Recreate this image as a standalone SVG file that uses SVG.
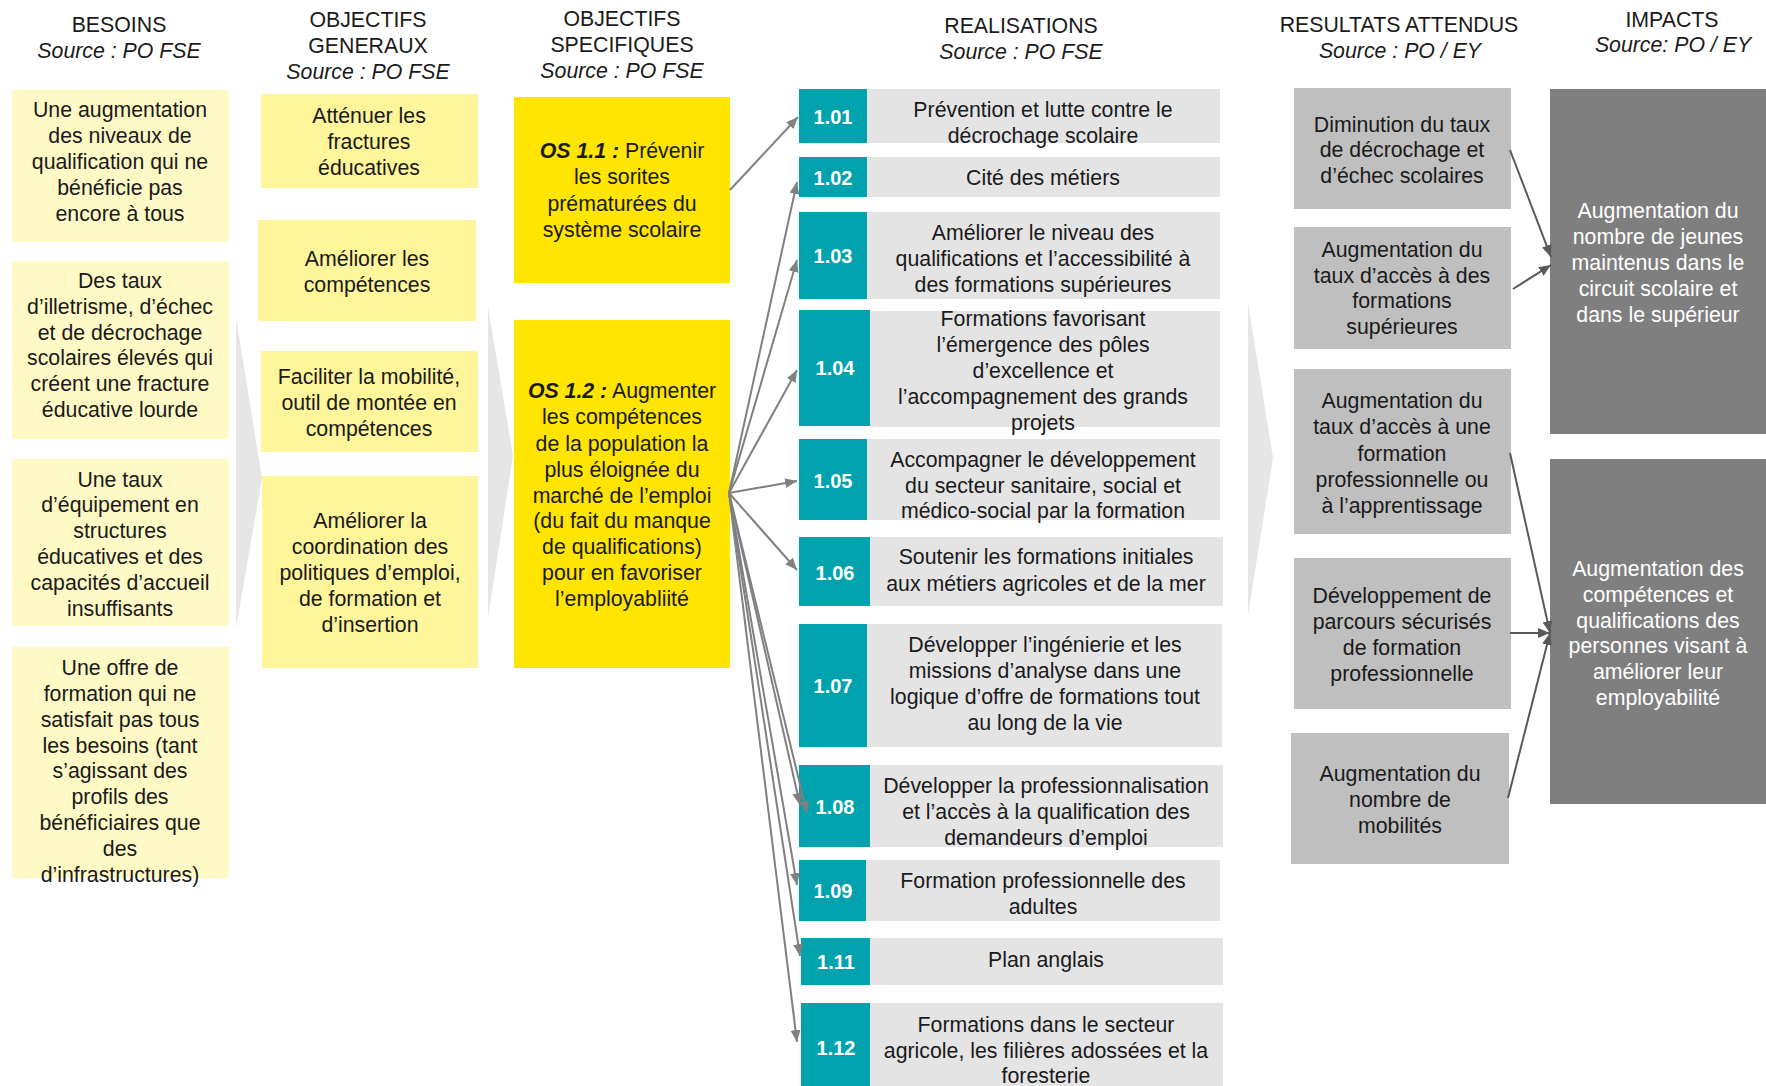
<svg xmlns="http://www.w3.org/2000/svg" width="1766" height="1086" viewBox="0 0 1766 1086">
<defs>
<style>
text{font-family:"Liberation Sans",Arial,sans-serif;font-size:21.3px;fill:#1a1a1a;text-anchor:middle}
.it{font-style:italic}
.bi{font-style:italic;font-weight:bold}
.lbl{font-weight:bold;font-size:20px;fill:#ffffff}
.wt{fill:#ffffff}
.bes{fill:#FFF9C6}
.og{fill:#FFF59B}
.os{fill:#FFE500}
.teal{fill:#00A3AD}
.rg{fill:#E4E4E4}
.ra{fill:#BFBFBF}
.imp{fill:#7F7F7F}
.chev{fill:#E6E6E6}
.c1{stroke:#808080;stroke-width:2;fill:none;marker-end:url(#ah1)}
.c2{stroke:#595959;stroke-width:2;fill:none;marker-end:url(#ah2)}
</style>
<marker id="ah1" viewBox="0 0 12 10" refX="12" refY="5" markerWidth="12" markerHeight="10" markerUnits="userSpaceOnUse" orient="auto"><path d="M0,0 L12,5 L0,10 z" fill="#808080"/></marker>
<marker id="ah2" viewBox="0 0 12 10" refX="12" refY="5" markerWidth="12" markerHeight="10" markerUnits="userSpaceOnUse" orient="auto"><path d="M0,0 L12,5 L0,10 z" fill="#595959"/></marker>
</defs>
<rect width="1766" height="1086" fill="#ffffff"/>

<g id="chevrons">
<polygon class="chev" points="236,318 262,478 236,628"/>
<polygon class="chev" points="488,307 513,456 488,618"/>
<polygon class="chev" points="1248,303 1273,458 1248,615"/>
</g>

<g id="headers">
<text x="119" y="32">BESOINS</text>
<text x="119" y="58" class="it">Source : PO FSE</text>
<text x="368" y="27">OBJECTIFS</text>
<text x="368" y="53">GENERAUX</text>
<text x="368" y="79" class="it">Source : PO FSE</text>
<text x="622" y="26">OBJECTIFS</text>
<text x="622" y="52">SPECIFIQUES</text>
<text x="622" y="78" class="it">Source : PO FSE</text>
<text x="1021" y="33">REALISATIONS</text>
<text x="1021" y="59" class="it">Source : PO FSE</text>
<text x="1399" y="32">RESULTATS ATTENDUS</text>
<text x="1400" y="58" class="it">Source : PO / EY</text>
<text x="1672" y="27">IMPACTS</text>
<text x="1673" y="52" class="it">Source: PO / EY</text>
</g>

<g id="besoin1"><rect class="bes" x="12" y="90" width="217" height="152"/>
<text><tspan x="120" y="117">Une augmentation</tspan><tspan x="120" y="143">des niveaux de</tspan><tspan x="120" y="169">qualification qui ne</tspan><tspan x="120" y="195">bénéficie pas</tspan><tspan x="120" y="221">encore à tous</tspan></text></g>
<g id="besoin2"><rect class="bes" x="12" y="261" width="217" height="178"/>
<text><tspan x="120" y="288">Des taux</tspan><tspan x="120" y="314">d’illetrisme, d’échec</tspan><tspan x="120" y="340">et de décrochage</tspan><tspan x="120" y="365">scolaires élevés qui</tspan><tspan x="120" y="391">créent une fracture</tspan><tspan x="120" y="417">éducative lourde</tspan></text></g>
<g id="besoin3"><rect class="bes" x="12" y="459" width="217" height="167"/>
<text><tspan x="120" y="487">Une taux</tspan><tspan x="120" y="512">d’équipement en</tspan><tspan x="120" y="538">structures</tspan><tspan x="120" y="564">éducatives et des</tspan><tspan x="120" y="590">capacités d’accueil</tspan><tspan x="120" y="616">insuffisants</tspan></text></g>
<g id="besoin4"><rect class="bes" x="12" y="647" width="217" height="231"/>
<text><tspan x="120" y="675">Une offre de</tspan><tspan x="120" y="701">formation qui ne</tspan><tspan x="120" y="727">satisfait pas tous</tspan><tspan x="120" y="753">les besoins (tant</tspan><tspan x="120" y="778">s’agissant des</tspan><tspan x="120" y="804">profils des</tspan><tspan x="120" y="830">bénéficiaires que</tspan><tspan x="120" y="856">des</tspan><tspan x="120" y="882">d’infrastructures)</tspan></text></g>

<g id="og1"><rect class="og" x="261" y="94" width="217" height="94"/>
<text><tspan x="369" y="123">Atténuer les</tspan><tspan x="369" y="149">fractures</tspan><tspan x="369" y="175">éducatives</tspan></text></g>
<g id="og2"><rect class="og" x="258" y="220" width="218" height="101"/>
<text><tspan x="367" y="266">Améliorer les</tspan><tspan x="367" y="292">compétences</tspan></text></g>
<g id="og3"><rect class="og" x="261" y="351" width="217" height="101"/>
<text><tspan x="369" y="384">Faciliter la mobilité,</tspan><tspan x="369" y="410">outil de montée en</tspan><tspan x="369" y="436">compétences</tspan></text></g>
<g id="og4"><rect class="og" x="262" y="476" width="216" height="192"/>
<text><tspan x="370" y="528">Améliorer la</tspan><tspan x="370" y="554">coordination des</tspan><tspan x="370" y="580">politiques d’emploi,</tspan><tspan x="370" y="606">de formation et</tspan><tspan x="370" y="632">d’insertion</tspan></text></g>

<g id="os1"><rect class="os" x="514" y="97" width="216" height="186"/>
<text><tspan x="622" y="158"><tspan class="bi">OS 1.1 :</tspan> Prévenir</tspan><tspan x="622" y="184">les sorites</tspan><tspan x="622" y="211">prématurées du</tspan><tspan x="622" y="237">système scolaire</tspan></text></g>
<g id="os2"><rect class="os" x="514" y="320" width="216" height="348"/>
<text><tspan x="622" y="398"><tspan class="bi">OS 1.2 :</tspan> Augmenter</tspan><tspan x="622" y="424">les compétences</tspan><tspan x="622" y="451">de la population la</tspan><tspan x="622" y="477">plus éloignée du</tspan><tspan x="622" y="503">marché de l’emploi</tspan><tspan x="622" y="528">(du fait du manque</tspan><tspan x="622" y="554">de qualifications)</tspan><tspan x="622" y="580">pour en favoriser</tspan><tspan x="622" y="606">l’employabliité</tspan></text></g>

<g id="r101"><rect class="rg" x="867" y="89" width="353" height="54"/><rect class="teal" x="799" y="89" width="68" height="54"/>
<text class="lbl" x="833" y="124">1.01</text>
<text><tspan x="1043" y="117">Prévention et lutte contre le</tspan><tspan x="1043" y="143">décrochage scolaire</tspan></text></g>
<g id="r102"><rect class="rg" x="867" y="157" width="353" height="40"/><rect class="teal" x="799" y="157" width="68" height="40"/>
<text class="lbl" x="833" y="185">1.02</text>
<text x="1043" y="185">Cité des métiers</text></g>
<g id="r103"><rect class="rg" x="867" y="212" width="353" height="87"/><rect class="teal" x="799" y="212" width="68" height="87"/>
<text class="lbl" x="833" y="263">1.03</text>
<text><tspan x="1043" y="240">Améliorer le niveau des</tspan><tspan x="1043" y="266">qualifications et l’accessibilité à</tspan><tspan x="1043" y="292">des formations supérieures</tspan></text></g>
<g id="r104"><rect class="rg" x="870" y="311" width="350" height="116"/><rect class="teal" x="799" y="310" width="71" height="116"/>
<text class="lbl" x="835" y="375">1.04</text>
<text><tspan x="1043" y="326">Formations favorisant</tspan><tspan x="1043" y="352">l’émergence des pôles</tspan><tspan x="1043" y="378">d’excellence et</tspan><tspan x="1043" y="404">l’accompagnement des grands</tspan><tspan x="1043" y="430">projets</tspan></text></g>
<g id="r105"><rect class="rg" x="867" y="439" width="353" height="81"/><rect class="teal" x="799" y="439" width="68" height="81"/>
<text class="lbl" x="833" y="488">1.05</text>
<text><tspan x="1043" y="467">Accompagner le développement</tspan><tspan x="1043" y="493">du secteur sanitaire, social et</tspan><tspan x="1043" y="518">médico-social par la formation</tspan></text></g>
<g id="r106"><rect class="rg" x="870" y="537" width="353" height="69"/><rect class="teal" x="799" y="537" width="71" height="69"/>
<text class="lbl" x="835" y="580">1.06</text>
<text><tspan x="1046" y="564">Soutenir les formations initiales</tspan><tspan x="1046" y="591">aux métiers agricoles et de la mer</tspan></text></g>
<g id="r107"><rect class="rg" x="867" y="624" width="355" height="123"/><rect class="teal" x="799" y="624" width="68" height="123"/>
<text class="lbl" x="833" y="693">1.07</text>
<text><tspan x="1045" y="652">Développer l’ingénierie et les</tspan><tspan x="1045" y="678">missions d’analyse dans une</tspan><tspan x="1045" y="704">logique d’offre de formations tout</tspan><tspan x="1045" y="730">au long de la vie</tspan></text></g>
<g id="r108"><rect class="rg" x="870" y="765" width="353" height="82"/><rect class="teal" x="799" y="765" width="71" height="82"/>
<text class="lbl" x="835" y="814">1.08</text>
<text><tspan x="1046" y="793">Développer la professionnalisation</tspan><tspan x="1046" y="819">et l’accès à la qualification des</tspan><tspan x="1046" y="845">demandeurs d’emploi</tspan></text></g>
<g id="r109"><rect class="rg" x="866" y="860" width="354" height="61"/><rect class="teal" x="799" y="860" width="67" height="61"/>
<text class="lbl" x="833" y="898">1.09</text>
<text><tspan x="1043" y="888">Formation professionnelle des</tspan><tspan x="1043" y="914">adultes</tspan></text></g>
<g id="r111"><rect class="rg" x="870" y="938" width="353" height="47"/><rect class="teal" x="801" y="938" width="69" height="47"/>
<text class="lbl" x="836" y="969">1.11</text>
<text x="1046" y="967">Plan anglais</text></g>
<g id="r112"><rect class="rg" x="870" y="1003" width="353" height="83"/><rect class="teal" x="801" y="1003" width="69" height="83"/>
<text class="lbl" x="836" y="1055">1.12</text>
<text><tspan x="1046" y="1032">Formations dans le secteur</tspan><tspan x="1046" y="1058">agricole, les filières adossées et la</tspan><tspan x="1046" y="1083">foresterie</tspan></text></g>

<g id="ra1"><rect class="ra" x="1294" y="88" width="217" height="121"/>
<text><tspan x="1402" y="132">Diminution du taux</tspan><tspan x="1402" y="157">de décrochage et</tspan><tspan x="1402" y="183">d’échec scolaires</tspan></text></g>
<g id="ra2"><rect class="ra" x="1294" y="227" width="217" height="122"/>
<text><tspan x="1402" y="257">Augmentation du</tspan><tspan x="1402" y="283">taux d’accès à des</tspan><tspan x="1402" y="308">formations</tspan><tspan x="1402" y="334">supérieures</tspan></text></g>
<g id="ra3"><rect class="ra" x="1294" y="369" width="217" height="165"/>
<text><tspan x="1402" y="408">Augmentation du</tspan><tspan x="1402" y="434">taux d’accès à une</tspan><tspan x="1402" y="461">formation</tspan><tspan x="1402" y="487">professionnelle ou</tspan><tspan x="1402" y="513">à l’apprentissage</tspan></text></g>
<g id="ra4"><rect class="ra" x="1294" y="558" width="217" height="151"/>
<text><tspan x="1402" y="603">Développement de</tspan><tspan x="1402" y="629">parcours sécurisés</tspan><tspan x="1402" y="655">de formation</tspan><tspan x="1402" y="681">professionnelle</tspan></text></g>
<g id="ra5"><rect class="ra" x="1291" y="733" width="218" height="131"/>
<text><tspan x="1400" y="781">Augmentation du</tspan><tspan x="1400" y="807">nombre de</tspan><tspan x="1400" y="833">mobilités</tspan></text></g>

<g id="impact1"><rect class="imp" x="1550" y="89" width="216" height="345"/>
<text class="wt"><tspan x="1658" y="218">Augmentation du</tspan><tspan x="1658" y="244">nombre de jeunes</tspan><tspan x="1658" y="270">maintenus dans le</tspan><tspan x="1658" y="296">circuit scolaire et</tspan><tspan x="1658" y="322">dans le supérieur</tspan></text></g>
<g id="impact2"><rect class="imp" x="1550" y="459" width="216" height="345"/>
<text class="wt"><tspan x="1658" y="576">Augmentation des</tspan><tspan x="1658" y="602">compétences et</tspan><tspan x="1658" y="628">qualifications des</tspan><tspan x="1658" y="653">personnes visant à</tspan><tspan x="1658" y="679">améliorer leur</tspan><tspan x="1658" y="705">employabilité</tspan></text></g>

<g id="connectors">
<line class="c1" x1="730" y1="190" x2="798" y2="117"/>
<line class="c1" x1="729" y1="493" x2="797" y2="182"/>
<line class="c1" x1="729" y1="493" x2="797" y2="260"/>
<line class="c1" x1="729" y1="493" x2="797" y2="370"/>
<line class="c1" x1="729" y1="493" x2="797" y2="481"/>
<line class="c1" x1="729" y1="493" x2="797" y2="570"/>
<line class="c1" x1="729" y1="493" x2="800" y2="805"/>
<line class="c1" x1="729" y1="493" x2="807" y2="813"/>
<line class="c1" x1="729" y1="493" x2="797" y2="885"/>
<line class="c1" x1="729" y1="493" x2="800" y2="956"/>
<line class="c1" x1="729" y1="493" x2="797" y2="1042"/>
<line class="c2" x1="1510" y1="150" x2="1551" y2="257"/>
<line class="c2" x1="1513" y1="289" x2="1551" y2="265"/>
<line class="c2" x1="1510" y1="453" x2="1550" y2="633"/>
<line class="c2" x1="1510" y1="633" x2="1550" y2="633"/>
<line class="c2" x1="1508" y1="798" x2="1550" y2="633"/>
</g>
</svg>
